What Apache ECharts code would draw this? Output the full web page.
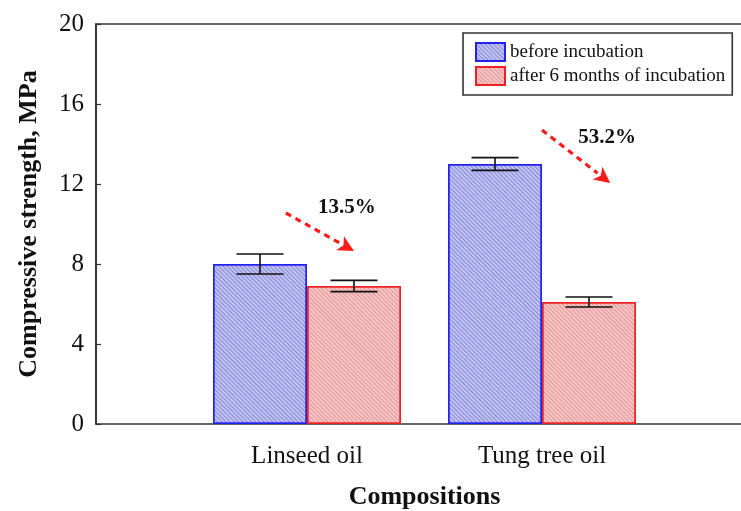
<!DOCTYPE html>
<html>
<head>
<meta charset="utf-8">
<script src="https://cdn.jsdelivr.net/npm/echarts@6/dist/echarts.min.js"></script>
<style>
  html, body { margin: 0; padding: 0; background: #fff; }
  #chart { width: 741px; height: 511px; }
</style>
</head>
<body>
<div id="chart"></div>
<script>
// Compressive strength of the two oil compositions, before and after incubation
var categories = ['Linseed oil', 'Tung tree oil'];
var seriesNames = ['before incubation', 'after 6 months of incubation'];
var beforeValues = [8.0, 13.0];
var beforeErrors = [0.5, 0.32];
var afterValues = [6.9, 6.1];
var afterErrors = [0.28, 0.25];
var dropLabels = ['13.5%', '53.2%'];
var yTicks = [0, 4, 8, 12, 16, 20];

var serif = "'Liberation Serif', 'Times New Roman', 'DejaVu Serif', serif";

function hatch(lineColor) {
  return {
    symbol: 'rect',
    symbolSize: 1,
    dashArrayX: [1, 0],
    dashArrayY: [1, 2],
    rotation: Math.PI / 4,
    color: lineColor
  };
}

var barWidth = 94;

function errorSeries(name, values, errors, side) {
  var data = values.map(function (v, i) { return [i, v, errors[i]]; });
  return {
    type: 'custom',
    name: name + ' error',
    xAxisIndex: 1,
    yAxisIndex: 1,
    z: 5,
    silent: true,
    data: data,
    renderItem: function (params, api) {
      var idx = api.value(0), mean = api.value(1), err = api.value(2);
      var c = api.coord([idx, mean]);
      var band = api.size([1, 0])[0];
      var x = c[0] + side * band * 0.2;
      var hi = api.coord([idx, mean + err])[1];
      var lo = api.coord([idx, mean - err])[1];
      var half = band * 0.1;
      var style = { stroke: '#111', lineWidth: 1.6 };
      return {
        type: 'group',
        children: [
          { type: 'line', shape: { x1: x, y1: hi, x2: x, y2: lo }, style: style },
          { type: 'line', shape: { x1: x - half, y1: hi, x2: x + half, y2: hi }, style: style },
          { type: 'line', shape: { x1: x - half, y1: lo, x2: x + half, y2: lo }, style: style }
        ]
      };
    }
  };
}

var chart = echarts.init(document.getElementById('chart'), null, { renderer: 'canvas' });

var option = {
  backgroundColor: '#fff',
  animation: false,
  grid: [
    { left: 96, top: 24, bottom: 87, width: 720, show: true, borderColor: '#333', borderWidth: 1.6, backgroundColor: 'transparent', outerBoundsMode: 'none', containLabel: false },
    { left: 189.5, top: 24, bottom: 87, width: 470, outerBoundsMode: 'none', containLabel: false }
  ],
  legend: {
    orient: 'vertical',
    left: 463,
    top: 33,
    padding: [9, 7, 9, 12],
    itemWidth: 29,
    itemHeight: 18,
    itemGap: 4,
    icon: 'rect',
    borderColor: '#333',
    borderWidth: 1.6,
    backgroundColor: '#fff',
    data: seriesNames,
    textStyle: { fontFamily: serif, fontSize: 19, color: '#111' }
  },
  xAxis: [
    { type: 'value', gridIndex: 0, show: false, min: 0, max: 1 },
    {
      type: 'category', gridIndex: 1, data: categories,
      axisLine: { show: false }, axisTick: { show: false }, splitLine: { show: false },
      axisLabel: { fontFamily: serif, fontSize: 25, color: '#111', margin: 20 },
      name: 'Compositions', nameLocation: 'middle', nameGap: 60,
      nameTextStyle: { fontFamily: serif, fontSize: 26, fontWeight: 'bold', color: '#111' }
    }
  ],
  yAxis: [
    {
      type: 'value', gridIndex: 0, min: yTicks[0], max: yTicks[yTicks.length - 1], interval: 4,
      axisLine: { show: true, lineStyle: { color: '#333', width: 1.6 } },
      axisTick: { show: true, inside: true, length: 5, lineStyle: { color: '#333', width: 1.2 } },
      splitLine: { show: false },
      axisLabel: { fontFamily: serif, fontSize: 25, color: '#111', margin: 12 },
      name: 'Compressive strength, MPa', nameLocation: 'middle', nameGap: 54,
      nameTextStyle: { fontFamily: serif, fontSize: 26, fontWeight: 'bold', color: '#111' }
    },
    { type: 'value', gridIndex: 1, min: yTicks[0], max: yTicks[yTicks.length - 1], interval: 4, show: false }
  ],
  series: [
    {
      type: 'bar', name: seriesNames[0], xAxisIndex: 1, yAxisIndex: 1,
      data: beforeValues, barWidth: barWidth, barGap: '0%',
      itemStyle: { color: '#c3c5f1', borderColor: '#2222ee', borderWidth: 1.5, decal: hatch('rgba(80,80,200,0.55)') }
    },
    {
      type: 'bar', name: seriesNames[1], xAxisIndex: 1, yAxisIndex: 1,
      data: afterValues, barWidth: barWidth, barGap: '0%',
      itemStyle: { color: '#f6c6c6', borderColor: '#ee2222', borderWidth: 1.5, decal: hatch('rgba(215,110,110,0.55)') }
    },
    errorSeries(seriesNames[0], beforeValues, beforeErrors, -1),
    errorSeries(seriesNames[1], afterValues, afterErrors, 1)
  ]
};
chart.setOption(option);

// Dashed red arrows marking the strength loss, placed in axis units
// (x as a fraction of a category band from its centre, y in MPa)
var arrows = [
  { cat: 0, tail: [-0.09, 10.55], head: [0.2, 8.65], text: [0.17, 10.8] },
  { cat: 1, tail: [0.0, 14.7], head: [0.29, 12.05], text: [0.277, 14.3] }
];

function toPixel(cat, off) {
  var c0 = chart.convertToPixel({ xAxisIndex: 1 }, 0);
  var c1 = chart.convertToPixel({ xAxisIndex: 1 }, 1);
  var band = c1 - c0;
  var cx = chart.convertToPixel({ xAxisIndex: 1 }, cat);
  return [cx + off[0] * band, chart.convertToPixel({ yAxisIndex: 1 }, off[1])];
}

var graphics = [];
arrows.forEach(function (a, i) {
  var t = toPixel(a.cat, a.tail);
  var h = toPixel(a.cat, a.head);
  var dx = h[0] - t[0], dy = h[1] - t[1];
  var len = Math.sqrt(dx * dx + dy * dy);
  var ux = dx / len, uy = dy / len;
  var headLen = 16, headHalf = 8;
  var bx = h[0] - ux * headLen, by = h[1] - uy * headLen;
  graphics.push({
    type: 'line', z: 10,
    shape: { x1: t[0], y1: t[1], x2: bx, y2: by },
    style: { stroke: '#ff1a1a', lineWidth: 3.2, lineDash: [6, 5] }
  });
  graphics.push({
    type: 'polygon', z: 10,
    shape: { points: [[h[0], h[1]], [bx - uy * headHalf, by + ux * headHalf], [bx + ux * 4, by + uy * 4], [bx + uy * headHalf, by - ux * headHalf]] },
    style: { fill: '#ff1a1a' }
  });
  var p = toPixel(a.cat, a.text);
  graphics.push({
    type: 'text', z: 10, x: p[0], y: p[1],
    style: { text: dropLabels[i], fontFamily: serif, fontSize: 21, fontWeight: 'bold', fill: '#111', align: 'center', verticalAlign: 'middle' }
  });
});
chart.setOption({ graphic: graphics });
</script>
</body>
</html>
